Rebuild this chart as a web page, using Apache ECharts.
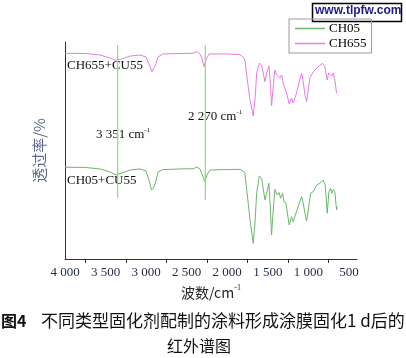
<!DOCTYPE html>
<html><head><meta charset="utf-8">
<script src="https://cdn.jsdelivr.net/npm/echarts@6/dist/echarts.min.js"></script>
<style>html,body{margin:0;padding:0;background:#fff}#c{width:406px;height:358px}</style>
</head><body><div id="c"></div>
<script>
// CH655 (upper trace)
var ch655Wn = [4000,3754,3569,3445,3371,3298,3199,3076,3002,2965,2928,2903,2879,2854,2792,2583,2420,2373,2336,2312,2287,2262,2225,2028,1843,1806,1782,1741,1720,1699,1679,1658,1637,1605,1576,1535,1514,1486,1465,1453,1433,1412,1391,1371,1350,1329,1310,1289,1268,1236,1206,1186,1145,1112,1083,1063,1042,1021,1001,981,947,919,878,824,796,767,750,726,710,693,673,652];
var ch655T  = [94.8,94.7,94.0,92.6,91.5,92.2,93.5,94.0,93.1,89.9,86.4,88.0,89.9,93.1,94.5,94.7,94.8,95.6,94.5,92.6,88.6,91.7,94.5,94.5,94.2,93.1,91.7,79.4,73.3,73.3,65.9,73.3,85.7,90.2,89.4,81.7,85.7,88.9,79.4,70.5,79.4,87.1,84.8,85.7,83.4,84.8,81.0,81.7,76.5,71.4,74.2,71.9,76.5,81.7,85.7,81.7,75.6,72.5,77.9,83.4,85.7,87.1,88.6,90.2,88.6,82.5,85.7,85.7,84.3,85.7,82.5,76.5];
// CH05 (lower trace)
var ch05Wn = [4000,3754,3569,3445,3371,3298,3199,3076,3002,2965,2932,2903,2879,2854,2792,2583,2420,2373,2336,2312,2275,2250,2213,2028,1843,1806,1782,1741,1720,1699,1679,1658,1637,1605,1576,1535,1514,1486,1465,1453,1433,1412,1384,1359,1342,1317,1301,1276,1255,1236,1206,1186,1153,1112,1083,1063,1042,1021,1001,972,940,898,857,817,792,767,746,726,710,693,673,652,644];
var ch05T  = [42.3,42.2,41.5,40.1,38.7,39.6,41.0,41.5,40.6,36.4,31.8,33.2,35.9,40.1,41.2,41.5,41.6,42.4,41.5,39.2,35.6,38.7,41.0,41.2,41.3,40.6,39.5,25.7,18.3,18.8,7.2,16.6,30.3,38.2,37.2,27.2,30.3,34.9,21.1,11.1,22.6,32.1,29.5,30.6,28.0,30.3,26.4,25.9,20.3,15.7,19.5,17.2,21.1,25.7,28.7,25.7,21.1,17.5,22.6,30.3,31.0,34.1,34.9,36.4,34.1,21.1,31.0,32.6,30.3,32.1,31.0,22.6,24.1];
// marker lines (wavenumber, top, bottom)
var markWn = [3351, 2270];
var markTop = [98.6, 98.6];
var markBottom = [28.1, 27.2];
var xLabels = [4000,3500,3000,2500,2000,1500,1000,500];
var xTicks = [3750,3250,2750,2250,1750,1250,750];

function zip(a,b){return a.map(function(v,i){return [v,b[i]];});}
function fmt(v){var s=String(v);return s.length>3? s.slice(0,s.length-3)+' '+s.slice(-3):s;}

var serif = '"Liberation Serif","Times New Roman",serif';
var cjk = '"Noto Sans CJK SC",sans-serif';

var markSeries = markWn.map(function(w,i){
  return {name:'mark'+i,type:'line',data:[[w,markTop[i]],[w,markBottom[i]]],showSymbol:false,symbol:'none',
    silent:true,z:4,lineStyle:{color:'#8fe083',width:1.3},itemStyle:{color:'#8fe083'}};
});

var chart = echarts.init(document.getElementById('c'));
chart.setOption({
  animation:false,
  backgroundColor:'#fff',
  grid:{left:65,right:49,top:42,bottom:99},
  legend:{
    left:289, top:19, orient:'vertical', itemGap:2, padding:[3,5,3,6],
    borderColor:'#9a9a9a', borderWidth:1, icon:'rect', itemWidth:30, itemHeight:1.5,
    textStyle:{fontFamily:serif,fontSize:13,color:'#000',padding:[0,0,0,-1]},
    data:['CH05','CH655']
  },
  xAxis:{
    type:'value', inverse:true, min:400, max:4000,
    splitLine:{show:false},
    axisLine:{lineStyle:{color:'#333',width:1}},
    axisTick:{show:true,length:4,customValues:xTicks,lineStyle:{color:'#333'}},
    axisLabel:{customValues:xLabels,formatter:function(v){return fmt(v);},fontFamily:serif,fontSize:13,color:'#1e2a44',margin:7},
    name:'波数/cm{s|-1}', nameLocation:'middle', nameGap:25,
    nameTextStyle:{fontFamily:cjk,fontSize:14,color:'#222',
      rich:{s:{fontFamily:serif,fontSize:8,color:'#222',padding:[0,0,9,0]}}}
  },
  yAxis:{
    type:'value', min:0, max:100,
    splitLine:{show:false}, axisTick:{show:false}, axisLabel:{show:false},
    axisLine:{show:true,onZero:false,lineStyle:{color:'#333',width:1}},
    name:'透过率/%', nameLocation:'middle', nameGap:18, nameRotate:90,
    nameTextStyle:{fontFamily:cjk,fontSize:15,color:'#5b6a8a'}
  },
  series:markSeries.concat([
    {name:'CH05',type:'line',data:zip(ch05Wn,ch05T),showSymbol:false,symbol:'none',z:3,
      lineStyle:{color:'#6cb66c',width:1},itemStyle:{color:'#6cb66c'}},
    {name:'CH655',type:'line',data:zip(ch655Wn,ch655T),showSymbol:false,symbol:'none',z:3,
      lineStyle:{color:'#e57ce5',width:1},itemStyle:{color:'#e57ce5'}}
  ]),
  graphic:[
    {type:'text',left:67,top:59,style:{text:'CH655+CU55',font:'13px '+serif,fill:'#111'}},
    {type:'text',left:67,top:174,style:{text:'CH05+CU55',font:'13px '+serif,fill:'#111'}},
    {type:'text',left:96,top:127,style:{text:'3 351 cm{s|-1}',font:'13px '+serif,fill:'#111',
      rich:{s:{fontSize:7,fontFamily:serif,fill:'#111',padding:[0,0,8,0]}}}},
    {type:'text',left:188,top:109,style:{text:'2 270 cm{s|-1}',font:'13px '+serif,fill:'#111',
      rich:{s:{fontSize:7,fontFamily:serif,fill:'#111',padding:[0,0,8,0]}}}},
    {type:'rect',shape:{x:312.5,y:3.5,width:89,height:18},style:{fill:'#fff',stroke:'#000',lineWidth:1.5}},
    {type:'text',left:315,top:5,style:{text:'www.tlpfw.com',font:'bold 12px "Liberation Sans",Arial,sans-serif',fill:'#1a1a8a'}},
    {type:'text',left:1,top:313,style:{text:'图4',font:'bold 16px '+cjk,fill:'#111'}},
    {type:'text',left:41,top:312,style:{text:'不同类型固化剂配制的涂料形成涂膜固化1 d后的',font:'17px '+cjk,fill:'#111'}},
    {type:'text',left:167,top:338,style:{text:'红外谱图',font:'16px '+cjk,fill:'#111'}}
  ]
});
</script></body></html>
